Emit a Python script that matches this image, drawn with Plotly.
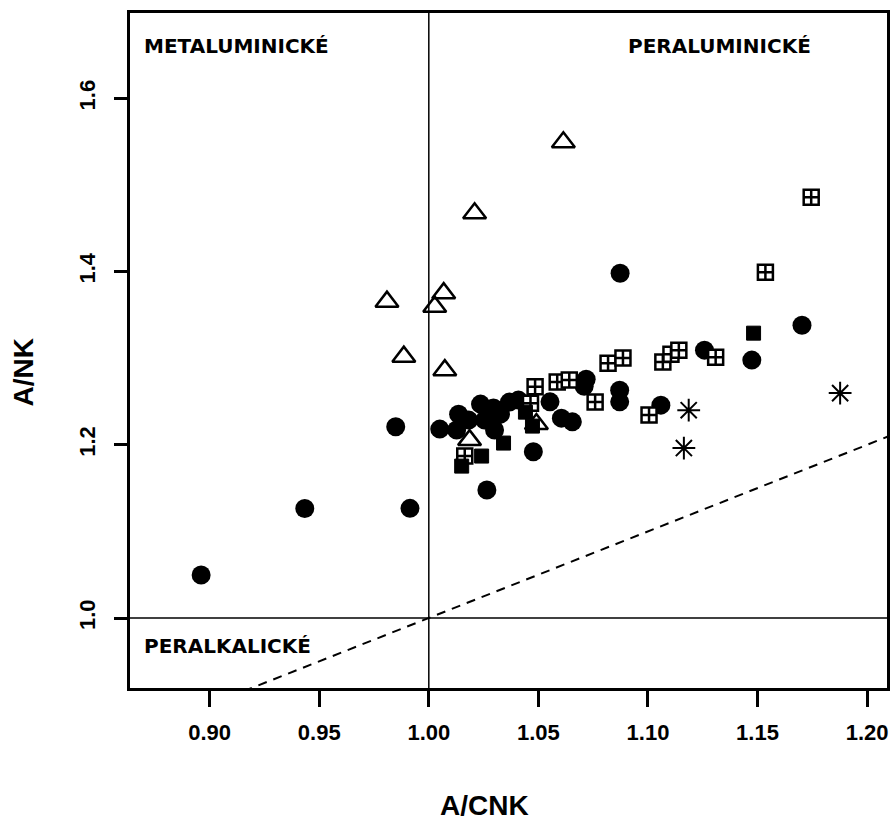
import plotly.graph_objects as go

# ---- data (A/CNK, A/NK) ----
circ_x = [0.8961, 0.9434, 0.9849, 0.9914, 1.0050, 1.0127, 1.0136, 1.0236, 1.0255, 1.0300,
          1.0327, 1.0368, 1.0477, 1.0265, 1.0553, 1.0605, 1.0655, 1.0718, 1.0709, 1.0871,
          1.0871, 1.0873, 1.1059, 1.1258, 1.1474, 1.1703, 1.0182, 1.0295, 1.0409]
circ_y = [1.0496, 1.1264, 1.2208, 1.1266, 1.2181, 1.2170, 1.2354, 1.2470, 1.2285, 1.2170,
          1.2354, 1.2493, 1.1919, 1.1477, 1.2496, 1.2308, 1.2265, 1.2758, 1.2677, 1.2631,
          1.2496, 1.3982, 1.2458, 1.3093, 1.2978, 1.3381, 1.2285, 1.2424, 1.2516]

sqplus_x = [1.0164, 1.0485, 1.0464, 1.0586, 1.0641, 1.0818, 1.0886, 1.0759, 1.1005, 1.1068,
            1.1105, 1.1141, 1.1309, 1.1536, 1.1745]
sqplus_y = [1.1870, 1.2669, 1.2481, 1.2724, 1.2747, 1.2943, 1.3001, 1.2493, 1.2343, 1.2955,
            1.3047, 1.3093, 1.3012, 1.3993, 1.4859]

sq_x = [1.0150, 1.0241, 1.0341, 1.0441, 1.0473, 1.1482]
sq_y = [1.1754, 1.1870, 1.2020, 1.2377, 1.2216, 1.3289]

tri_x = [1.0614, 1.0209, 0.9809, 1.0068, 1.0027, 0.9886, 1.0073, 1.0186, 1.0491]
tri_y = [1.5493, 1.4674, 1.3653, 1.3751, 1.3595, 1.3018, 1.2862, 1.2054, 1.2239]

ast_x = [1.1186, 1.1164, 1.1877]
ast_y = [1.2400, 1.1962, 1.2597]

x_ticks = [0.90, 0.95, 1.00, 1.05, 1.10, 1.15, 1.20]
x_ticklabels = ["0.90", "0.95", "1.00", "1.05", "1.10", "1.15", "1.20"]
y_ticks = [1.0, 1.2, 1.4, 1.6]
y_ticklabels = ["1.0", "1.2", "1.4", "1.6"]

diag = [0.80, 1.30]   # A/NK = A/CNK reference line

fig = go.Figure()

fig.add_trace(go.Scatter(x=diag, y=diag, mode="lines",
                         line=dict(color="black", width=2, dash="9px,7px"),
                         hoverinfo="skip", showlegend=False))

fig.add_trace(go.Scatter(x=circ_x, y=circ_y, mode="markers",
                         marker=dict(symbol="circle", size=19, color="black",
                                     line=dict(width=0)), showlegend=False))
fig.add_trace(go.Scatter(x=sqplus_x, y=sqplus_y, mode="markers",
                         marker=dict(symbol="square-cross", size=15, color="white",
                                     line=dict(width=2.5, color="black")), showlegend=False))
fig.add_trace(go.Scatter(x=sq_x, y=sq_y, mode="markers",
                         marker=dict(symbol="square", size=14, color="black",
                                     line=dict(width=1, color="black")), showlegend=False))
fig.add_trace(go.Scatter(x=tri_x, y=tri_y, mode="markers",
                         marker=dict(symbol="triangle-up-open", size=20, color="black",
                                     line=dict(width=2.5, color="black")), showlegend=False))
fig.add_trace(go.Scatter(x=ast_x, y=ast_y, mode="markers",
                         marker=dict(symbol="asterisk-open", size=19, color="black",
                                     line=dict(width=2, color="black")), showlegend=False))

# reference lines at A/CNK = 1 and A/NK = 1
fig.add_shape(type="line", xref="x", yref="paper", x0=1.0, x1=1.0, y0=0, y1=1,
              line=dict(color="black", width=1.5), layer="below")
fig.add_shape(type="line", xref="paper", yref="y", x0=0, x1=1, y0=1.0, y1=1.0,
              line=dict(color="black", width=1.5), layer="below")

lab_font = dict(family="DejaVu Sans", size=20, color="black", weight="bold")
fig.add_annotation(text="METALUMINICKÉ", xref="paper", yref="paper", x=0.0158, y=0.951,
                   xanchor="left", yanchor="middle", showarrow=False, font=lab_font)
fig.add_annotation(text="PERALUMINICKÉ", xref="paper", yref="paper", x=0.6553, y=0.951,
                   xanchor="left", yanchor="middle", showarrow=False, font=lab_font)
fig.add_annotation(text="PERALKALICKÉ", xref="paper", yref="paper", x=0.0158, y=0.0622,
                   xanchor="left", yanchor="middle", showarrow=False, font=lab_font)

title_font = dict(family="Liberation Sans, Arial", size=28, color="black", weight="bold")
fig.add_annotation(text="A/CNK", xref="paper", yref="paper", x=0.4684, y=-0.1748,
                   xanchor="center", yanchor="middle", showarrow=False, font=title_font)
fig.add_annotation(text="A/NK", xref="paper", yref="paper", x=-0.1408, y=0.468,
                   xanchor="center", yanchor="middle", showarrow=False, textangle=-90,
                   font=title_font)

tick_font = dict(family="Liberation Sans, Arial", size=22, color="black", weight="bold")

fig.update_layout(
    width=895, height=820,
    margin=dict(l=130, r=5, t=13, b=132),
    paper_bgcolor="white", plot_bgcolor="white",
    xaxis=dict(range=[0.86364, 1.20909], tickvals=x_ticks, ticktext=x_ticklabels,
               showgrid=False, zeroline=False, showline=True, linewidth=2.5,
               linecolor="black", mirror=True, ticks="outside", ticklen=16,
               tickwidth=2.5, tickcolor="black", tickfont=tick_font,
               ticklabelstandoff=7),
    yaxis=dict(range=[0.91917, 1.69861], tickvals=y_ticks, ticktext=y_ticklabels,
               showgrid=False, zeroline=False, showline=True, linewidth=2.5,
               linecolor="black", mirror=True, ticks="outside", ticklen=13,
               tickwidth=2.5, tickcolor="black", tickfont=tick_font, tickangle=-90,
               ticklabelstandoff=10),
)

fig.write_html("out.html")
